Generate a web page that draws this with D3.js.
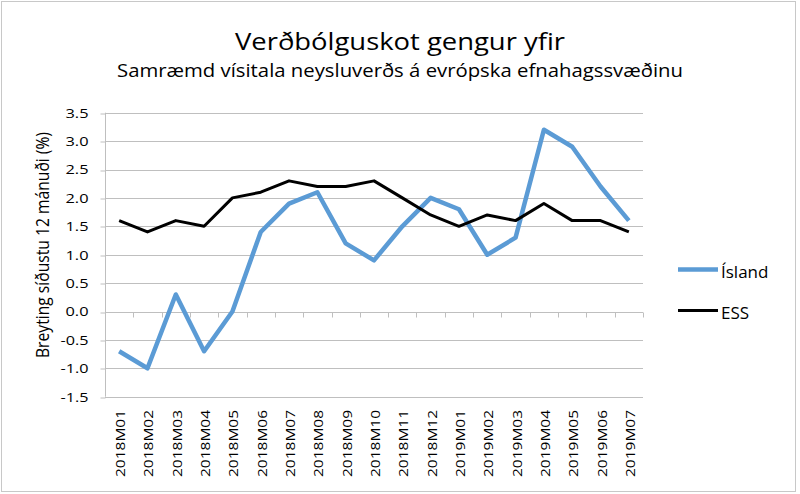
<!DOCTYPE html>
<html>
<head>
<meta charset="utf-8">
<script src="https://cdn.jsdelivr.net/npm/d3@7"></script>
<style>
  html, body { margin: 0; padding: 0; background: #fff; }
  svg { display: block; }
</style>
</head>
<body>
<svg id="chart" width="800" height="494"></svg>
<script>
const categories = ["2018M01","2018M02","2018M03","2018M04","2018M05","2018M06","2018M07","2018M08","2018M09","2018M10","2018M11","2018M12","2019M01","2019M02","2019M03","2019M04","2019M05","2019M06","2019M07"];
const islandValues = [-0.7, -1.0, 0.3, -0.7, 0.0, 1.4, 1.9, 2.1, 1.2, 0.9, 1.5, 2.0, 1.8, 1.0, 1.3, 3.2, 2.9, 2.2, 1.6];
const essValues = [1.6, 1.4, 1.6, 1.5, 2.0, 2.1, 2.3, 2.2, 2.2, 2.3, 2.0, 1.7, 1.5, 1.7, 1.6, 1.9, 1.6, 1.6, 1.4];
const yTicks = [-1.5, -1.0, -0.5, 0.0, 0.5, 1.0, 1.5, 2.0, 2.5, 3.0, 3.5];
const seriesNames = ["Ísland", "ESS"];
const seriesColors = ["#5b9bd5", "#000000"];
const titleText = "Verðbólguskot gengur yfir";
const subtitleText = "Samræmd vísitala neysluverðs á evrópska efnahagssvæðinu";
const yTitle = "Breyting síðustu 12 mánuði (%)";

(function () {
const svg = d3.select("#chart");
const font = "'Open Sans', sans-serif";

svg.append("rect").attr("x", 1.5).attr("y", 1.5).attr("width", 794).attr("height", 490)
  .attr("fill", "#fff").attr("stroke", "#c8c8c8").attr("stroke-width", 1);

const pLeft = 105, pRight = 643, pTop = 112.7, pBottom = 396.7;
const x = d3.scaleBand().domain(categories).range([pLeft, pRight]);
const y = d3.scaleLinear().domain([-1.5, 3.5]).range([pBottom, pTop]);

svg.append("g").selectAll("line").data(yTicks).join("line")
  .attr("x1", pLeft).attr("x2", pRight)
  .attr("y1", d => Math.round(y(d)) + 0.5).attr("y2", d => Math.round(y(d)) + 0.5)
  .attr("stroke", "#bfbfbf").attr("stroke-width", 1);

const yAxis = d3.axisLeft(y).tickValues(yTicks).tickSize(5).tickFormat(d3.format(".1f"));
const gy = svg.append("g").attr("transform", `translate(${pLeft + 0.5},0)`).call(yAxis);
gy.select(".domain").attr("stroke", "#bfbfbf").attr("d", `M0,${pTop}V${pBottom}`);
gy.selectAll(".tick line").attr("stroke", "#bfbfbf")
  .attr("transform", d => `translate(0,${Math.round(y(d)) + 0.5 - y(d)})`);
gy.selectAll(".tick text").attr("x", -17).attr("font-family", font).attr("font-size", 13.5)
  .attr("fill", "#000").text(d => d3.format(".1f")(d).replace("−", "-"))
  .attr("textLength", d => d < 0 ? 28 : 23).attr("lengthAdjust", "spacingAndGlyphs");

const zeroY = Math.round(y(0)) + 0.5;
const xAxisG = svg.append("g");
xAxisG.append("line").attr("x1", pLeft).attr("x2", pRight).attr("y1", zeroY).attr("y2", zeroY)
  .attr("stroke", "#bfbfbf");
const boundaries = categories.map(c => x(c)).concat([pRight]);
xAxisG.selectAll("line.tk").data(boundaries).join("line").attr("class", "tk")
  .attr("x1", d => Math.round(d) + 0.5).attr("x2", d => Math.round(d) + 0.5)
  .attr("y1", zeroY).attr("y2", zeroY + 5).attr("stroke", "#bfbfbf");

svg.append("g").selectAll("text").data(categories).join("text")
  .attr("transform", d => `translate(${x(d) + x.bandwidth() / 2 + 6},410) rotate(-90)`)
  .attr("text-anchor", "end")
  .attr("font-family", font).attr("font-size", 13.5).attr("fill", "#000")
  .attr("textLength", 67).attr("lengthAdjust", "spacingAndGlyphs")
  .text(d => d);

const line = d3.line().x((d, i) => x(categories[i]) + x.bandwidth() / 2).y(d => y(d));
svg.append("path").datum(islandValues).attr("d", line).attr("fill", "none")
  .attr("stroke", seriesColors[0]).attr("stroke-width", 4.5).attr("stroke-linejoin", "round");
svg.append("path").datum(essValues).attr("d", line).attr("fill", "none")
  .attr("stroke", seriesColors[1]).attr("stroke-width", 3).attr("stroke-linejoin", "round");

const legY = [269.5, 310.5];
const leg = svg.append("g");
seriesNames.forEach((n, i) => {
  leg.append("line").attr("x1", 678).attr("x2", 718).attr("y1", legY[i]).attr("y2", legY[i])
    .attr("stroke", seriesColors[i]).attr("stroke-width", i === 0 ? 4.5 : 3);
  leg.append("text").attr("x", 721).attr("y", legY[i] + 8).attr("font-family", font)
    .attr("font-size", 17).attr("fill", "#000").text(n);
});

svg.append("text").attr("x", 400).attr("y", 49.5).attr("text-anchor", "middle")
  .attr("font-family", font).attr("font-size", 24).attr("fill", "#000")
  .attr("textLength", 330).attr("lengthAdjust", "spacingAndGlyphs").text(titleText);
svg.append("text").attr("x", 400).attr("y", 77).attr("text-anchor", "middle")
  .attr("font-family", font).attr("font-size", 18.5).attr("fill", "#000")
  .attr("textLength", 566).attr("lengthAdjust", "spacingAndGlyphs").text(subtitleText);

svg.append("text").attr("transform", `translate(48.5,245) rotate(-90)`)
  .attr("text-anchor", "middle").attr("font-family", font).attr("font-size", 17.5)
  .attr("textLength", 226).attr("lengthAdjust", "spacingAndGlyphs")
  .attr("fill", "#000").text(yTitle);
})();
</script>
</body>
</html>
